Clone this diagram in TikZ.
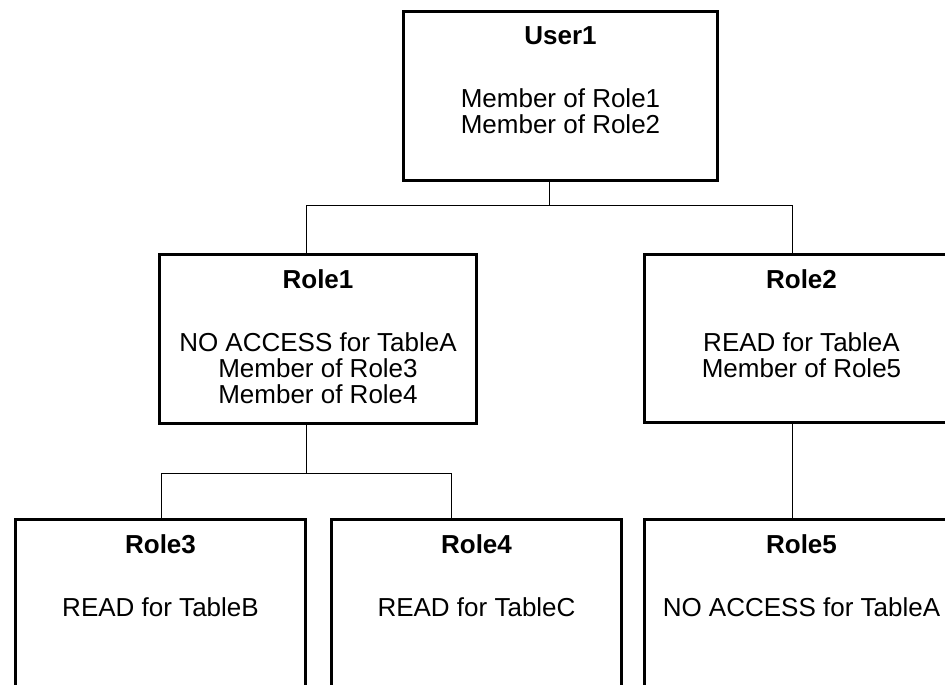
\documentclass[tikz,border=0pt]{standalone}
\usepackage{fontspec}
\setmainfont{Liberation Sans}
\usepackage{tikz}

% box contents: width, height, title, lines
\newcommand{\rolebody}[4]{\parbox[t][#2][t]{#1}{\centering\vspace*{15pt}\textbf{#3}\\[37pt]#4}}

\tikzset{
  rolebox/.style={draw, line width=3pt, inner sep=0pt, anchor=north west},
  link/.style={line width=1pt}
}

\begin{document}
\begin{tikzpicture}[x=1pt,y=-1pt,font=\fontsize{26}{26}\selectfont]
  \useasboundingbox (0,0) rectangle (945,685);
  \clip (0,0) rectangle (945,685);

  \node[rolebox] (user1) at (402,10) {\rolebody{314pt}{169pt}{User1}{Member of Role1\\Member of Role2}};
  \node[rolebox] (role1) at (158,253) {\rolebody{317pt}{169pt}{Role1}{NO ACCESS for TableA\\Member of Role3\\Member of Role4}};
  \node[rolebox] (role2) at (643,253) {\rolebody{314pt}{168pt}{Role2}{READ for TableA\\Member of Role5}};
  \node[rolebox] (role3) at (14,518) {\rolebody{290pt}{220pt}{Role3}{READ for TableB}};
  \node[rolebox] (role4) at (330,518) {\rolebody{290pt}{220pt}{Role4}{READ for TableC}};
  \node[rolebox] (role5) at (643,518) {\rolebody{314pt}{220pt}{Role5}{NO ACCESS for TableA}};

  \draw[link] ([xshift=-11pt]user1.south) -- ++(0,23) -| ([xshift=-11.5pt]role1.north);
  \draw[link] ([xshift=-11pt]user1.south) -- ++(0,23) -| ([xshift=-9pt]role2.north);
  \draw[link] ([xshift=-11.5pt]role1.south) -- ++(0,48) -| ([xshift=1pt]role3.north);
  \draw[link] ([xshift=-11.5pt]role1.south) -- ++(0,48) -| ([xshift=-25pt]role4.north);
  \draw[link] ([xshift=-9pt]role2.south) -- ([xshift=-9pt]role5.north);
\end{tikzpicture}
\end{document}
